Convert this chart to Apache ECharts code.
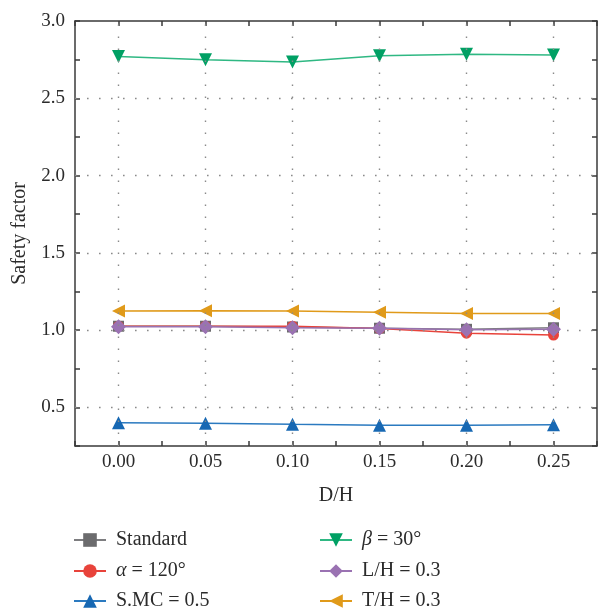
<!DOCTYPE html>
<html>
<head>
<meta charset="utf-8">
<script src="https://cdn.jsdelivr.net/npm/echarts@6/dist/echarts.min.js"></script>
<style>
  html, body { margin: 0; padding: 0; background: #fff; }
  #chart { width: 600px; height: 614px; }
</style>
</head>
<body>
<div id="chart"></div>
<script>
// D/H values along the x axis
const dh = [0.00, 0.05, 0.10, 0.15, 0.20, 0.25];

// Safety factor for each case
const standard = [1.025, 1.025, 1.020, 1.012, 1.005, 1.015];
const alpha120 = [1.025, 1.025, 1.025, 1.010, 0.980, 0.968];
const smc05    = [0.400, 0.398, 0.390, 0.385, 0.384, 0.388];
const beta30   = [2.770, 2.750, 2.735, 2.775, 2.785, 2.780];
const lh03     = [1.022, 1.022, 1.015, 1.012, 1.003, 1.005];
const th03     = [1.123, 1.125, 1.123, 1.115, 1.107, 1.108];

// Major gridline positions
const yGrid = [0.5, 1.0, 1.5, 2.0, 2.5];
const xGrid = dh;

const serif = '"Liberation Serif", "DejaVu Serif", serif';
const axisColor = '#3a3a3a';
const textColor = '#2b2b2b';

function pairs(ys) { return dh.map((x, i) => [x, ys[i]]); }

function lineSeries(name, ys, color, lineColor, symbol, size, rotate) {
  return {
    name: name,
    type: 'line',
    data: pairs(ys),
    symbol: symbol,
    symbolSize: size,
    symbolRotate: rotate || 0,
    itemStyle: { color: color },
    lineStyle: { color: lineColor, width: 1.5 },
    z: 3
  };
}

const dotted = { color: '#8a8a8a', width: 1.4, type: [1.6, 10.4] };

const series = [
  {
    name: 'grid',
    type: 'line',
    data: [],
    silent: true,
    z: 1,
    markLine: {
      silent: true,
      symbol: 'none',
      animation: false,
      label: { show: false },
      lineStyle: dotted,
      data: yGrid.map(v => ({ yAxis: v })).concat(xGrid.map(v => ({ xAxis: v })))
    }
  },
  lineSeries('Standard', standard, '#6b6b6d', '#7d7d80', 'rect', 11),
  lineSeries('alpha', alpha120, '#e8433b', '#e8433b', 'circle', 11),
  lineSeries('smc', smc05, '#1768b3', '#2b7ac0', 'triangle', 13),
  lineSeries('beta', beta30, '#00a064', '#2fb883', 'triangle', 13, 180),
  lineSeries('lh', lh03, '#9a72b2', '#9a72b2', 'diamond', 15),
  lineSeries('th', th03, '#e09a1a', '#e09a1a', 'triangle', 13, 90)
];

// Legend entries: series name, label text, column x, row y
const legendItems = [
  ['Standard', 'Standard', 73, 530],
  ['alpha', '{i|α} = 120°', 73, 561],
  ['smc', 'S.MC = 0.5', 73, 591],
  ['beta', '{i|β} = 30°', 319, 530],
  ['lh', 'L/H = 0.3', 319, 561],
  ['th', 'T/H = 0.3', 319, 591]
];

const legends = legendItems.map(([name, text, left, top]) => ({
  left: left,
  top: top,
  padding: 0,
  itemWidth: 32,
  itemHeight: 17,
  data: [name],
  formatter: () => text,
  textStyle: {
    fontFamily: serif,
    fontSize: 20,
    color: textColor,
    padding: [0, 0, 0, 5],
    rich: {
      i: { fontFamily: serif, fontSize: 20, fontStyle: 'italic', color: textColor }
    }
  }
}));

const tickStyle = { show: true, inside: true, length: 5, lineStyle: { color: axisColor, width: 1.5 } };
const lineStyle = { show: true, onZero: false, lineStyle: { color: axisColor, width: 1.5 } };

const xBase = {
  type: 'value',
  min: -0.025,
  max: 0.275,
  interval: 0.025,
  splitLine: { show: false },
  axisLine: lineStyle,
  axisTick: tickStyle
};
const yBase = {
  type: 'value',
  min: 0.25,
  max: 3.0,
  interval: 0.25,
  splitLine: { show: false },
  axisLine: lineStyle,
  axisTick: tickStyle
};

function isStep(v, step) {
  const r = v / step;
  return Math.abs(r - Math.round(r)) < 1e-6;
}

const option = {
  animation: false,
  backgroundColor: '#fff',
  grid: { left: 75, right: 2, top: 21, bottom: 168, containLabel: false },
  legend: legends,
  xAxis: [
    Object.assign({}, xBase, {
      position: 'bottom',
      name: 'D/H',
      nameLocation: 'middle',
      nameGap: 40,
      nameTextStyle: { fontFamily: serif, fontSize: 20, color: textColor },
      axisLabel: {
        margin: 7,
        fontFamily: serif,
        fontSize: 19,
        color: textColor,
        formatter: v => (v >= -1e-9 && v <= 0.25 + 1e-9 && isStep(v, 0.05)) ? v.toFixed(2) : ''
      }
    }),
    Object.assign({}, xBase, { position: 'top', axisLabel: { show: false } })
  ],
  yAxis: [
    Object.assign({}, yBase, {
      position: 'left',
      name: 'Safety factor',
      nameLocation: 'middle',
      nameGap: 45,
      nameTextStyle: { fontFamily: serif, fontSize: 20, color: textColor },
      axisLabel: {
        margin: 10,
        fontFamily: serif,
        fontSize: 19,
        color: textColor,
        formatter: v => isStep(v, 0.5) ? v.toFixed(1) : ''
      }
    }),
    Object.assign({}, yBase, { position: 'right', axisLabel: { show: false } })
  ],
  series: series
};

const chart = echarts.init(document.getElementById('chart'), null, { renderer: 'canvas' });
chart.setOption(option);
</script>
</body>
</html>
